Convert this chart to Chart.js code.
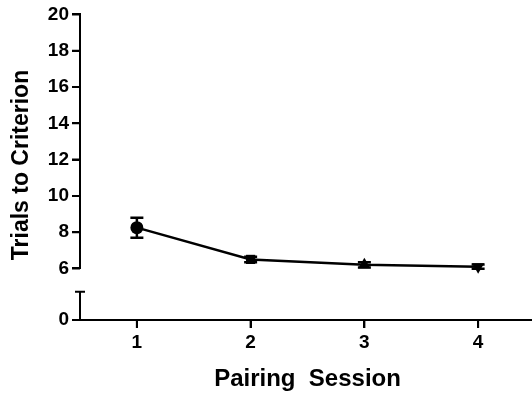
<!DOCTYPE html>
<html>
<head>
<meta charset="utf-8">
<script src="https://cdn.jsdelivr.net/npm/chart.js@4.4.1/dist/chart.umd.min.js"></script>
<style>
  html, body { margin: 0; padding: 0; background: #fff; overflow: hidden; }
  #wrap { width: 542px; height: 398px; position: relative; }
  canvas { display: block; }
</style>
</head>
<body>
<div id="wrap"><canvas id="trialsChart"></canvas></div>
<script>
// values
const sessions = [1, 2, 3, 4];
const meanTrials = [8.25, 6.5, 6.2, 6.1];
const semTrials = [0.55, 0.15, 0.15, 0.12];
const markerStyles = ['circle', 'rect', 'triangle', 'triangle'];
const markerRotation = [0, 0, 0, 180];
const upperTicks = [6, 8, 10, 12, 14, 16, 18, 20];
const lowerTicks = [0];

const FONT = "'Liberation Sans', Arial, sans-serif";
const TICK = 8;

// error bars, tick marks, broken y axis, y title
const extras = {
  id: 'extras',
  afterDatasetsDraw(chart) {
    const ctx = chart.ctx;
    const x = chart.scales.x, y = chart.scales.y;
    ctx.save();
    ctx.strokeStyle = '#000';
    ctx.lineWidth = 2.5;
    sessions.forEach((s, i) => {
      const px = x.getPixelForValue(s);
      const top = y.getPixelForValue(meanTrials[i] + semTrials[i]);
      const bot = y.getPixelForValue(meanTrials[i] - semTrials[i]);
      ctx.beginPath();
      ctx.moveTo(px, top); ctx.lineTo(px, bot);
      ctx.moveTo(px - 6.5, top); ctx.lineTo(px + 6.5, top);
      ctx.moveTo(px - 6.5, bot); ctx.lineTo(px + 6.5, bot);
      ctx.stroke();
    });
    ctx.restore();
  },
  afterDraw(chart) {
    const ctx = chart.ctx;
    const x = chart.scales.x, y = chart.scales.y, low = chart.scales.yLow;
    const ax = y.right;
    const capY = low.getPixelForValue(1);
    ctx.save();
    ctx.strokeStyle = '#000';
    ctx.lineWidth = 2;
    ctx.beginPath();
    // lower axis stub with its cap
    ctx.moveTo(ax, capY);
    ctx.lineTo(ax, low.bottom);
    ctx.moveTo(ax - 5, capY);
    ctx.lineTo(ax + 5, capY);
    // tick marks
    y.ticks.forEach(t => {
      const py = y.getPixelForValue(t.value);
      ctx.moveTo(ax - TICK, py); ctx.lineTo(ax, py);
    });
    low.ticks.forEach(t => {
      const py = low.getPixelForValue(t.value);
      ctx.moveTo(ax - TICK, py); ctx.lineTo(ax, py);
    });
    x.ticks.forEach(t => {
      const px = x.getPixelForValue(t.value);
      ctx.moveTo(px, x.top); ctx.lineTo(px, x.top + TICK);
    });
    ctx.stroke();
    // y title
    ctx.translate(22, 165);
    ctx.rotate(-Math.PI / 2);
    ctx.fillStyle = '#000';
    ctx.font = 'bold 23px ' + FONT;
    ctx.textAlign = 'center';
    ctx.textBaseline = 'middle';
    ctx.fillText('Trials to Criterion', 0, 0);
    ctx.restore();
  }
};

function gridOpts() {
  return {
    display: true,
    drawOnChartArea: false,
    drawTicks: true,
    tickLength: TICK,
    color: '#000',
    lineWidth: 2
  };
}

new Chart(document.getElementById('trialsChart'), {
  type: 'line',
  data: {
    datasets: [{
      data: sessions.map((s, i) => ({ x: s, y: meanTrials[i] })),
      yAxisID: 'y',
      borderColor: '#000',
      backgroundColor: '#000',
      borderWidth: 2.5,
      tension: 0,
      pointStyle: markerStyles,
      rotation: markerRotation,
      pointRadius: [6.5, 6.5, 7, 7],
      pointBorderWidth: 0,
      clip: false
    }]
  },
  options: {
    responsive: true,
    maintainAspectRatio: false,
    animation: false,
    events: [],
    layout: { padding: { top: 13, right: 0, left: 0, bottom: 0 } },
    plugins: { legend: { display: false }, tooltip: { enabled: false } },
    scales: {
      x: {
        type: 'linear',
        min: 0.5,
        max: 4.5,
        afterBuildTicks: sc => { sc.ticks = sessions.map(v => ({ value: v })); },
        afterFit: sc => { sc.height = 78; },
        grid: gridOpts(),
        border: { display: true, color: '#000', width: 2 },
        ticks: {
          color: '#000',
          padding: 3,
          autoSkip: false,
          font: { family: FONT, size: 19, weight: 'bold' }
        },
        title: {
          display: true,
          text: 'Pairing  Session',
          color: '#000',
          padding: { top: 10 },
          font: { family: FONT, size: 24, weight: 'bold' }
        }
      },
      yLow: {
        type: 'linear',
        position: 'left',
        stack: 'left',
        stackWeight: 51,
        min: 0,
        max: 1.82,
        afterBuildTicks: sc => { sc.ticks = lowerTicks.map(v => ({ value: v })); },
        afterFit: sc => { sc.width = 80; },
        grid: gridOpts(),
        border: { display: false },
        ticks: {
          color: '#000',
          padding: 3,
          autoSkip: false,
          font: { family: FONT, size: 19, weight: 'bold' }
        }
      },
      y: {
        type: 'linear',
        position: 'left',
        stack: 'left',
        stackWeight: 251.5,
        min: 6,
        max: 20,
        afterBuildTicks: sc => { sc.ticks = upperTicks.map(v => ({ value: v })); },
        afterFit: sc => { sc.width = 80; },
        grid: gridOpts(),
        border: { display: true, color: '#000', width: 2 },
        ticks: {
          color: '#000',
          padding: 3,
          autoSkip: false,
          font: { family: FONT, size: 19, weight: 'bold' }
        }
      }
    }
  },
  plugins: [extras]
});
</script>
</body>
</html>
